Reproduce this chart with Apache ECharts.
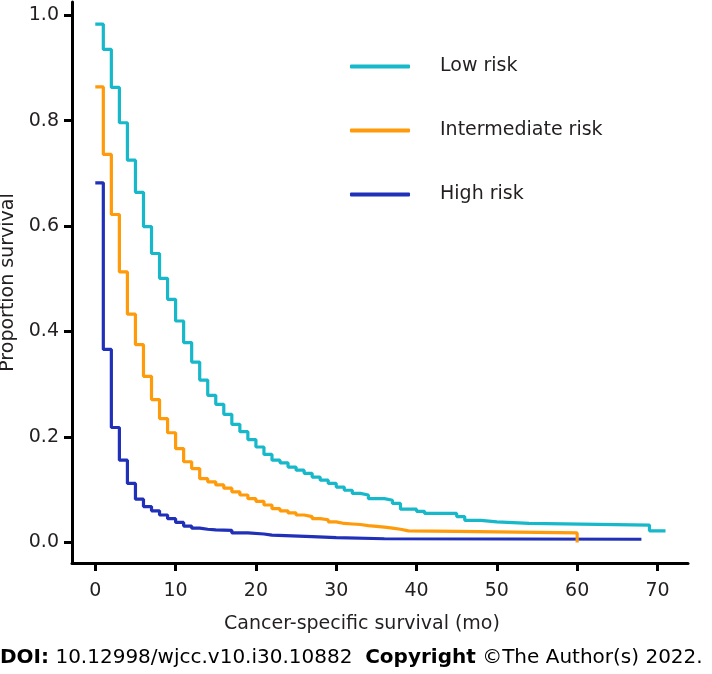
<!DOCTYPE html>
<html>
<head>
<meta charset="utf-8">
<script src="https://cdn.jsdelivr.net/npm/echarts@6/dist/echarts.min.js"></script>
<style>html,body{margin:0;padding:0;background:#fff;}#c{width:712px;height:674px;}</style>
</head>
<body>
<div id="c"></div>
<script>
const lowTime = [0,1,2,3,4,5,6,7,8,9,10,11,12,13,14,15,16,17,18,19,20,21,22,23,24,25,26,27,28,29,30,31,32,33,34,36,37,38,40,41,45,46,48,50,54,69,71];
const lowSurv = [0.983,0.935,0.863,0.796,0.725,0.664,0.599,0.548,0.501,0.461,0.420,0.379,0.342,0.308,0.279,0.262,0.243,0.224,0.210,0.195,0.181,0.167,0.156,0.151,0.143,0.137,0.131,0.124,0.118,0.112,0.105,0.099,0.093,0.090,0.083,0.080,0.074,0.063,0.059,0.055,0.049,0.042,0.039,0.036,0.033,0.022,0.022];
const midTime = [0,1,2,3,4,5,6,7,8,9,10,11,12,13,14,15,16,17,18,19,20,21,22,23,24,25,26,27,28,29,30,31,32,33,34,36,37,38,39,45,60];
const midSurv = [0.864,0.736,0.622,0.513,0.433,0.375,0.315,0.271,0.235,0.208,0.178,0.153,0.140,0.121,0.115,0.109,0.103,0.096,0.090,0.083,0.078,0.071,0.064,0.060,0.056,0.052,0.049,0.045,0.043,0.039,0.036,0.035,0.034,0.032,0.029,0.027,0.025,0.022,0.021,0.018,0.0];
const highTime = [0,1,2,3,4,5,6,7,8,9,10,11,12,13,14,15,17,19,21,22,27,30,36,68];
const highSurv = [0.682,0.366,0.218,0.156,0.112,0.082,0.068,0.060,0.052,0.045,0.038,0.031,0.027,0.025,0.024,0.023,0.018,0.016,0.014,0.011,0.009,0.007,0.006,0.006];
const seriesNames = ['Low risk','Intermediate risk','High risk'];
const seriesColors = ['#17B8C9','#FF9A0A','#2130B8'];
const xTicks = [0,10,20,30,40,50,60,70];
const yTicks = [0,0.2,0.4,0.6,0.8,1.0];

const zip = (t, s) => t.map((v, i) => [v, s[i]]);
const dataSets = [zip(lowTime, lowSurv), zip(midTime, midSurv), zip(highTime, highSurv)];
const FONT = 'DejaVu Sans';
const TXT = '#231F20';

const chart = echarts.init(document.getElementById('c'), null, {renderer: 'canvas'});
chart.setOption({
  animation: false,
  backgroundColor: '#fff',
  textStyle: {fontFamily: FONT},
  grid: {left: 72, right: 24, top: 2, bottom: 111, outerBoundsMode: 'none'},
  legend: {
    orient: 'vertical', left: 350, top: 55, itemGap: 41, padding: 0,
    itemWidth: 60, itemHeight: 4, icon: 'roundRect',
    data: seriesNames,
    textStyle: {fontFamily: FONT, fontSize: 19, color: TXT, lineHeight: 23, padding: [0,0,0,25]}
  },
  xAxis: {
    type: 'value', min: -2.9, max: 73.8,
    name: 'Cancer-specific survival (mo)', nameLocation: 'middle', nameGap: 52,
    nameTextStyle: {fontFamily: FONT, fontSize: 19, color: TXT, padding: [0, 36, 0, 0]},
    axisLine: {show: true, onZero: false, lineStyle: {color: '#000', width: 3}},
    axisTick: {show: true, length: 8, lineStyle: {color: '#000', width: 3}, customValues: xTicks},
    axisLabel: {fontFamily: FONT, fontSize: 19, color: TXT, margin: 19, customValues: xTicks},
    splitLine: {show: false}
  },
  yAxis: {
    type: 'value', min: -0.039, max: 1.025,
    name: 'Proportion survival', nameLocation: 'middle', nameGap: 45,
    nameTextStyle: {fontFamily: FONT, fontSize: 19, color: TXT},
    axisLine: {show: true, onZero: false, lineStyle: {color: '#000', width: 3}},
    axisTick: {show: true, length: 8, lineStyle: {color: '#000', width: 3}, customValues: yTicks},
    axisLabel: {fontFamily: FONT, fontSize: 19, color: TXT, margin: 13, customValues: yTicks,
      formatter: v => v.toFixed(1)},
    splitLine: {show: false}
  },
  series: dataSets.map((d, i) => ({
    name: seriesNames[i], type: 'line', step: 'end', data: d,
    showSymbol: false, symbol: 'none',
    itemStyle: {color: seriesColors[i]},
    lineStyle: {color: seriesColors[i], width: 3.2},
    z: 3 - i
  })),
  graphic: [{
    type: 'text', left: 0, top: 648,
    style: {
      text: '{b|DOI:} 10.12998/wjcc.v10.i30.10882  {b|Copyright} ©The Author(s) 2022.',
      font: '20px ' + FONT, fill: '#000',
      rich: {b: {fontWeight: 'bold', fontSize: 20, fontFamily: FONT, fill: '#000'}}
    }
  }]
});
</script>
</body>
</html>
